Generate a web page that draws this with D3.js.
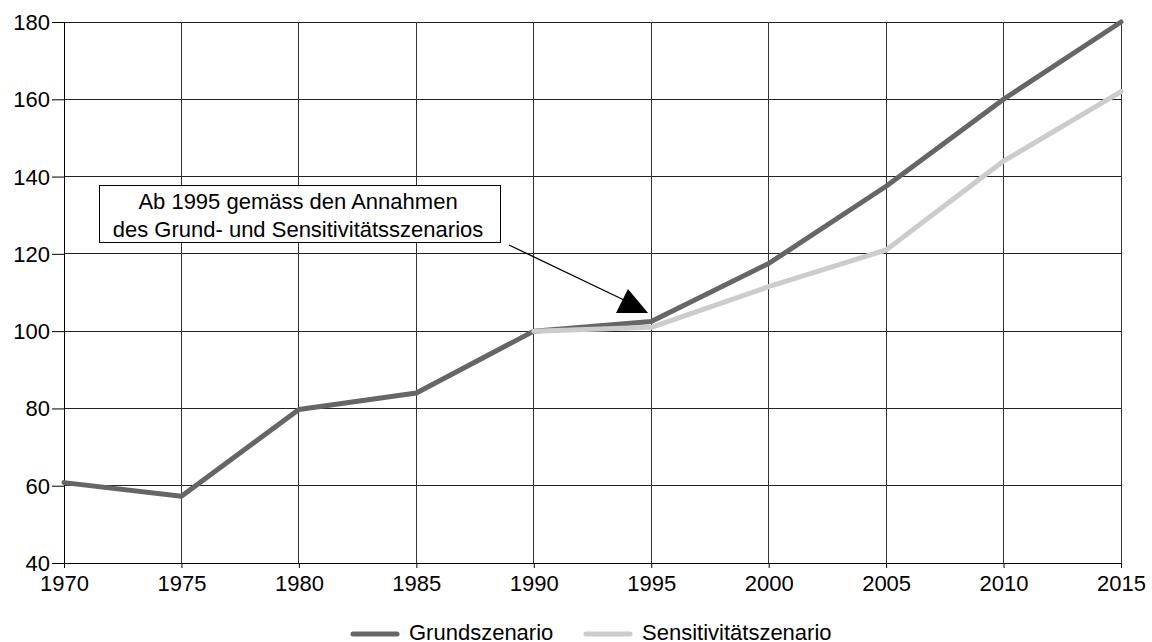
<!DOCTYPE html>
<html><head><meta charset="utf-8">
<script src="https://cdnjs.cloudflare.com/ajax/libs/d3/7.8.5/d3.min.js"></script>
<style>body{margin:0;background:#fff}svg{display:block;font-family:"Liberation Sans",Arial,sans-serif}</style>
</head><body><svg id="c" width="1152" height="642"></svg>
<script>
const years = [1970,1975,1980,1985,1990,1995,2000,2005,2010,2015];
const grundValues = [60.8,57.3,79.7,84.0,100,102.5,117.5,137.5,160,180];
const sensYears = [1990,1995,2000,2005,2010,2015];
const sensValues = [100,101,111.5,121,144,162];
const yTicks = [40,60,80,100,120,140,160,180];
const seriesNames = ["Grundszenario","Sensitivitätszenario"];
const annotationLines = ["Ab 1995 gemäss den Annahmen","des Grund- und Sensitivitätsszenarios"];

const svg = d3.select("#c");
const m = {l:64, r:1121, t:22, b:563};
const FS = 22;
const x = d3.scaleLinear().domain([1970,2015]).range([m.l,m.r]);
const y = d3.scaleLinear().domain([40,180]).range([m.b,m.t]);

// grid
svg.append("g").selectAll("line").data(yTicks).join("line")
  .attr("x1",m.l).attr("x2",m.r).attr("y1",d=>y(d)).attr("y2",d=>y(d))
  .attr("stroke","#222").attr("stroke-width",1).attr("shape-rendering","crispEdges");
svg.append("g").selectAll("line").data(years).join("line")
  .attr("y1",m.t).attr("y2",m.b).attr("x1",d=>x(d)).attr("x2",d=>x(d))
  .attr("stroke","#333").attr("stroke-width",1).attr("shape-rendering","crispEdges");

// axes
const ax = svg.append("g").attr("transform",`translate(0,${m.b})`)
  .call(d3.axisBottom(x).tickValues(years).tickFormat(d3.format("d")).tickSize(5).tickPadding(3));
const ay = svg.append("g").attr("transform",`translate(${m.l},0)`)
  .call(d3.axisLeft(y).tickValues(yTicks).tickSize(12).tickPadding(2));
[ax,ay].forEach(a=>{
  a.select(".domain").attr("stroke","#000");
  a.selectAll(".tick line").attr("stroke","#000");
  a.selectAll("text").attr("font-size",FS).attr("fill","#000").attr("font-family","Liberation Sans, Arial, sans-serif");
});
ax.selectAll("text").attr("y",28).attr("dy",0);
ay.selectAll("text").attr("dy","0.34em");

// lines
const line = d3.line().x(d=>x(d[0])).y(d=>y(d[1]));
svg.append("path").datum(years.map((yr,i)=>[yr,grundValues[i]]))
  .attr("d",line).attr("fill","none").attr("stroke","#666").attr("stroke-width",5)
  .attr("stroke-linejoin","round").attr("stroke-linecap","round");
svg.append("path").datum(sensYears.map((yr,i)=>[yr,sensValues[i]]))
  .attr("d",line).attr("fill","none").attr("stroke","#ccc").attr("stroke-width",5)
  .attr("stroke-linejoin","round").attr("stroke-linecap","round");

// annotation
svg.append("rect").attr("x",99.5).attr("y",185.5).attr("width",401).attr("height",57)
  .attr("fill","#fff").attr("stroke","#000").attr("stroke-width",1);
svg.append("g").selectAll("text").data(annotationLines).join("text")
  .attr("x",298).attr("y",(d,i)=>209+i*28).attr("text-anchor","middle")
  .attr("font-size",FS).attr("fill","#000").text(d=>d);
svg.append("line").attr("x1",509).attr("y1",245).attr("x2",624).attr("y2",300)
  .attr("stroke","#000").attr("stroke-width",1.3);
svg.append("polygon").attr("points","628,289 616,313 648,313").attr("fill","#000");

// legend
const lg = svg.append("g");
const lgX = [353,586];
const lgColors = ["#666","#ccc"];
seriesNames.forEach((n,i)=>{
  lg.append("line").attr("x1",lgX[i]).attr("x2",lgX[i]+44).attr("y1",634).attr("y2",634)
    .attr("stroke",lgColors[i]).attr("stroke-width",5).attr("stroke-linecap","round");
  lg.append("text").attr("x",lgX[i]+56).attr("y",640).attr("font-size",FS).attr("fill","#000").text(n);
});
</script></body></html>
